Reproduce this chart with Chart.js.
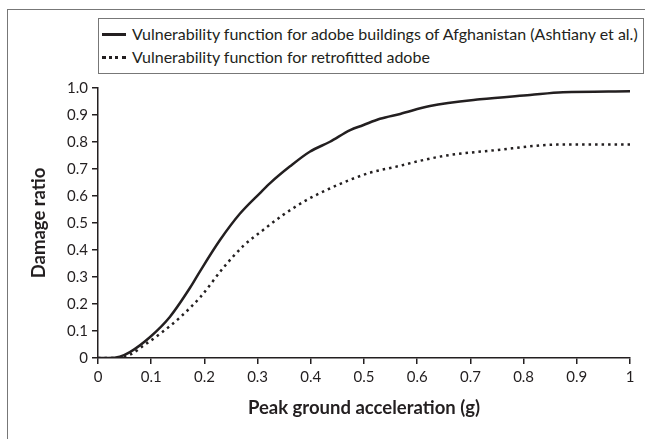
<!DOCTYPE html>
<html>
<head>
<meta charset="utf-8">
<script src="https://cdn.jsdelivr.net/npm/chart.js@4.4.1/dist/chart.umd.min.js"></script>
<style>
  html, body { margin: 0; padding: 0; background: #fff; }
  body { width: 645px; height: 439px; position: relative; overflow: hidden; font-family: Lato, 'Open Sans', sans-serif; }
  #frame { position: absolute; left: 7px; top: 9px; width: 700px; height: 500px; border-left: 1px solid #777; border-top: 1px solid #777; }
  #wrap { position: absolute; left: 0; top: 0; width: 645px; height: 439px; }
  #legend { position: absolute; left: 98px; top: 18px; width: 546px; height: 56px; border: 1px solid #777; background: #fff; box-sizing: border-box; font-size: 16px; color: #231f20; }
  .row { position: absolute; left: 0; display: flex; align-items: center; white-space: nowrap; line-height: 18px; }
  .sample { width: 24px; margin-left: 3px; margin-right: 6px; }
  .solid { border-top: 3px solid #231f20; }
  .dots { border-top: 3px dotted #231f20; }
</style>
</head>
<body>
<div id="frame"></div>
<div id="wrap"><canvas id="chart" width="645" height="439"></canvas></div>
<div id="legend">
  <div class="row" style="top:6px"><span class="sample solid"></span><span id="lab0"></span></div>
  <div class="row" style="top:29px"><span class="sample dots"></span><span id="lab1"></span></div>
</div>
<script>
const seriesNames = [
  'Vulnerability function for adobe buildings of Afghanistan (Ashtiany et al.)',
  'Vulnerability function for retrofitted adobe'
];

const pgaSolid = [0, 0.02, 0.041, 0.06, 0.098, 0.135, 0.173, 0.192, 0.229, 0.267, 0.305, 0.323, 0.361, 0.398, 0.436, 0.474, 0.498, 0.53, 0.568, 0.624, 0.718, 0.812, 0.874, 1.0];
const damageSolid = [0, 0, 0.005, 0.022, 0.078, 0.152, 0.26, 0.322, 0.436, 0.535, 0.612, 0.647, 0.71, 0.764, 0.801, 0.844, 0.862, 0.886, 0.904, 0.933, 0.958, 0.974, 0.984, 0.988];

const pgaDotted = [0, 0.03, 0.06, 0.085, 0.117, 0.154, 0.192, 0.236, 0.273, 0.311, 0.348, 0.392, 0.436, 0.474, 0.511, 0.568, 0.6, 0.655, 0.749, 0.843, 0.906, 1.0];
const damageDotted = [0, 0, 0.012, 0.045, 0.09, 0.15, 0.225, 0.335, 0.415, 0.475, 0.53, 0.585, 0.628, 0.66, 0.686, 0.712, 0.728, 0.75, 0.77, 0.789, 0.791, 0.791];

const xTicks = [0, 0.1, 0.2, 0.3, 0.4, 0.5, 0.6, 0.7, 0.8, 0.9, 1];
const yTicks = [0, 0.1, 0.2, 0.3, 0.4, 0.5, 0.6, 0.7, 0.8, 0.9, 1.0];

document.getElementById('lab0').textContent = seriesNames[0];
document.getElementById('lab1').textContent = seriesNames[1];

const toPoints = (xs, ys) => xs.map((x, i) => ({ x, y: ys[i] }));
const ink = '#231f20';
const fontFam = "Lato, 'Open Sans', sans-serif";

new Chart(document.getElementById('chart'), {
  type: 'line',
  data: {
    datasets: [
      { label: seriesNames[0], data: toPoints(pgaSolid, damageSolid), borderColor: ink, borderWidth: 2.5, pointRadius: 0, cubicInterpolationMode: 'monotone', fill: false },
      { label: seriesNames[1], data: toPoints(pgaDotted, damageDotted), borderColor: ink, borderWidth: 2.5, borderDash: [2.5, 4], borderCapStyle: 'butt', pointRadius: 0, cubicInterpolationMode: 'monotone', fill: false }
    ]
  },
  options: {
    responsive: false,
    animation: false,
    layout: { padding: { left: 28, right: 15, top: 88, bottom: 20 } },
    plugins: { legend: { display: false }, tooltip: { enabled: false } },
    scales: {
      x: {
        type: 'linear', min: 0, max: 1,
        afterBuildTicks: (s) => { s.ticks = xTicks.map(v => ({ value: v })); },
        afterFit: (s) => { s.height = 61; },
        grid: { display: true, drawOnChartArea: false, drawTicks: true, tickLength: 6, color: ink, lineWidth: 1.5 },
        border: { color: ink, width: 1.5 },
        ticks: { color: ink, font: { family: fontFam, size: 15 }, padding: 4, maxRotation: 0, callback: v => String(v) },
        title: { display: true, text: 'Peak ground acceleration (g)', color: ink, font: { family: fontFam, size: 18.5, weight: 'bold' }, padding: 0 }
      },
      y: {
        type: 'linear', min: 0, max: 1,
        afterBuildTicks: (s) => { s.ticks = yTicks.map(v => ({ value: v })); },
        afterFit: (s) => { s.width = 70; },
        grid: { display: true, drawOnChartArea: false, drawTicks: true, tickLength: 6, color: ink, lineWidth: 1.5 },
        border: { color: ink, width: 1.5 },
        ticks: { color: ink, font: { family: fontFam, size: 15 }, padding: 4, callback: v => v === 0 ? '0' : v.toFixed(1) },
        title: { display: true, text: 'Damage ratio', color: ink, font: { family: fontFam, size: 18.5, weight: 'bold' }, padding: 0 }
      }
    }
  }
});
</script>
</body>
</html>
